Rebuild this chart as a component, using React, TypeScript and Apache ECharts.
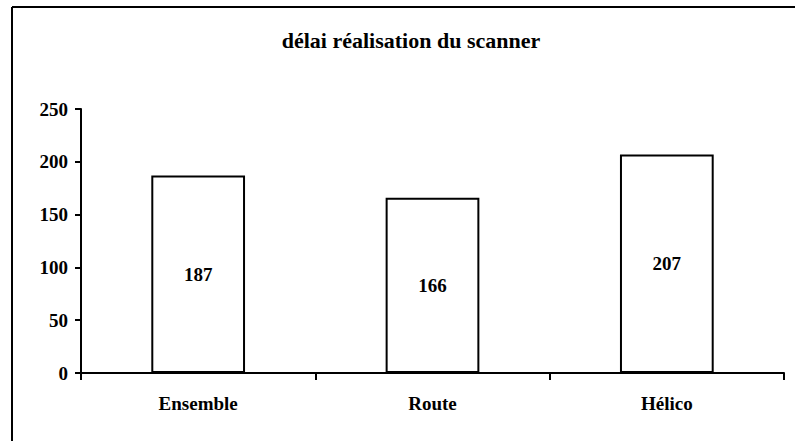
import React, { useEffect, useRef } from "react";
import * as echarts from "echarts";

const categories = ["Ensemble", "Route", "Hélico"];
const values = [187, 166, 207];
const titleText = "délai réalisation du scanner";

export default function App() {
  const ref = useRef<HTMLDivElement>(null);
  useEffect(() => {
    if (!ref.current) return;
    const chart = echarts.init(ref.current, undefined, { renderer: "svg" });
    const font = "Liberation Serif";
    chart.setOption({
      animation: false,
      backgroundColor: "#ffffff",
      title: {
        text: titleText,
        left: 406,
        textAlign: "center",
        top: 24,
        textStyle: { fontFamily: font, fontWeight: "bold", fontSize: 22, color: "#000" },
      },
      grid: { left: 81, right: 11, top: 109, bottom: 68, containLabel: false },
      xAxis: {
        type: "category",
        data: categories,
        axisLine: { lineStyle: { color: "#000", width: 2 } },
        axisTick: { show: true, alignWithLabel: false, length: 7, lineStyle: { color: "#000", width: 2 } },
        axisLabel: { fontFamily: font, fontWeight: "bold", fontSize: 19, color: "#000", margin: 21 },
        splitLine: { show: false },
      },
      yAxis: {
        type: "value",
        min: 0,
        max: 250,
        interval: 50,
        axisLine: { show: true, lineStyle: { color: "#000", width: 2 } },
        axisTick: { show: true, length: 6, lineStyle: { color: "#000", width: 2 } },
        axisLabel: { fontFamily: font, fontWeight: "bold", fontSize: 19, color: "#000", margin: 13 },
        splitLine: { show: false },
      },
      series: [
        {
          type: "bar",
          data: values,
          barWidth: "40%",
          itemStyle: { color: "#ffffff", borderColor: "#000", borderWidth: 2 },
          label: {
            show: true,
            position: "inside",
            fontFamily: font,
            fontWeight: "bold",
            fontSize: 19,
            color: "#000",
          },
        },
      ],
      graphic: [
        { type: "line", shape: { x1: 12, y1: 7, x2: 12, y2: 441 }, style: { stroke: "#000", lineWidth: 2 } },
        { type: "line", shape: { x1: 12, y1: 7, x2: 795, y2: 7 }, style: { stroke: "#000", lineWidth: 2 } },
      ],
    });
    return () => chart.dispose();
  }, []);
  return <div ref={ref} style={{ width: 795, height: 441, position: "absolute", left: 0, top: 0 }} />;
}
